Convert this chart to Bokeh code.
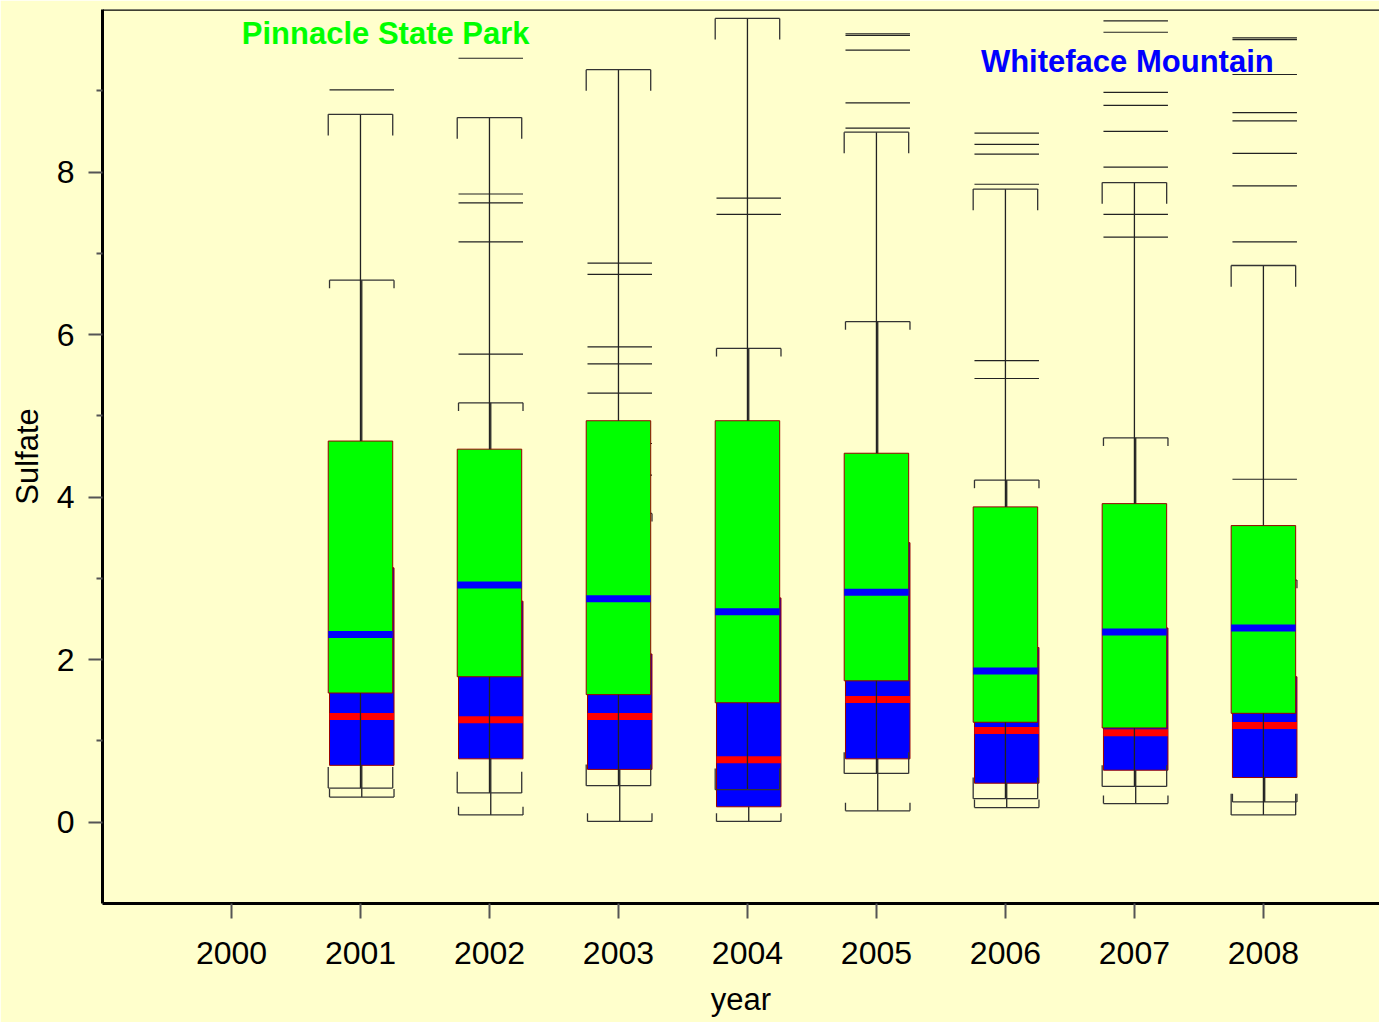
from bokeh.plotting import figure
from bokeh.models import ColumnDataSource, FixedTicker, Span
from bokeh.core.properties import value
from bokeh.embed import file_html
from bokeh.resources import INLINE

# data
years = [2001, 2002, 2003, 2004, 2005, 2006, 2007, 2008]

# Pinnacle State Park (green boxes)
p_q1 = [1.59, 1.79, 1.57, 1.47, 1.74, 1.23, 1.16, 1.34]
p_med = [2.31, 2.92, 2.75, 2.59, 2.83, 1.86, 2.34, 2.39]
p_q3 = [4.69, 4.59, 4.94, 4.94, 4.54, 3.88, 3.92, 3.65]
p_lo = [0.42, 0.36, 0.45, 0.40, 0.60, 0.29, 0.44, 0.09]
p_hi = [8.71, 8.67, 9.26, 9.89, 8.49, 7.79, 7.87, 6.85]

# Whiteface Mountain (blue boxes)
w_q1 = [0.70, 0.78, 0.65, 0.19, 0.78, 0.48, 0.64, 0.55]
w_med = [1.30, 1.26, 1.30, 0.77, 1.51, 1.13, 1.10, 1.19]
w_q3 = [3.13, 2.72, 2.07, 2.76, 3.44, 2.15, 2.39, 1.79]
w_lo = [0.31, 0.09, 0.01, 0.01, 0.14, 0.18, 0.23, 0.25]
w_hi = [6.67, 5.16, 3.80, 5.83, 6.16, 4.21, 4.73, 2.98]

w_outliers = {
    2001: [9.01],
    2002: [9.40, 7.73, 7.62, 7.14, 5.76],
    2003: [6.88, 6.74, 5.85, 5.64, 5.28, 4.66, 4.27],
    2004: [7.68, 7.48],
    2005: [9.70, 9.68, 9.50, 8.85, 8.54],
    2006: [8.48, 8.34, 8.22, 7.85, 5.68, 5.46],
    2007: [9.86, 9.72, 8.98, 8.82, 8.50, 8.06, 7.48, 7.20],
    2008: [9.65, 9.63, 9.20, 8.73, 8.63, 8.23, 7.83, 7.14, 4.22],
}

x_ticks = [2000, 2001, 2002, 2003, 2004, 2005, 2006, 2007, 2008]
y_ticks = [0, 2, 4, 6, 8]
y_minor = [1, 3, 5, 7, 9]

BG = "#FFFFCC"
FONT = "Liberation Sans"
y_top = 10.0

p = figure(width=1379, height=1022, x_range=(1999.0, 2008.9), y_range=(-1.0, y_top),
           output_backend="svg", toolbar_location=None, tools="",
           min_border_left=102, min_border_right=0, min_border_top=9, min_border_bottom=119)
p.background_fill_color = BG
p.border_fill_color = BG
p.outline_line_color = None
p.grid.visible = False


def add_site(q1, med, q3, lo, hi, shift, box_color, med_color, tick_len, outliers=None):
    half = 0.25
    xs = [y + shift for y in years]
    left = [x - half for x in xs]
    right = [x + half for x in xs]
    src = ColumnDataSource(data=dict(x=xs, left=left, right=right, q1=q1, med=med, q3=q3, lo=lo, hi=hi))

    p.quad(left="left", right="right", bottom="q1", top="q3", source=src,
           fill_color=box_color, line_color="#990000", line_width=1)

    # whiskers
    p.segment(x0="x", y0="q3", x1="x", y1="hi", source=src, line_color="#222222", line_width=1.3)
    p.segment(x0="x", y0="q1", x1="x", y1="lo", source=src, line_color="#222222", line_width=1.3)

    # staples with small end ticks pointing toward the box
    for end, sign in (("hi", -1), ("lo", 1)):
        vals = hi if end == "hi" else lo
        p.segment(x0=left, y0=vals, x1=right, y1=vals, line_color="#333333", line_width=1.3)
        tip = [v + sign * tick_len for v in vals]
        p.segment(x0=left + right, y0=vals + vals, x1=left + right, y1=tip + tip,
                  line_color="#333333", line_width=1.3)

    if outliers:
        ox0, ox1, oy = [], [], []
        for x, yr in zip(xs, years):
            for v in outliers.get(yr, []):
                ox0.append(x - half)
                ox1.append(x + half)
                oy.append(v)
        p.segment(x0=ox0, y0=oy, x1=ox1, y1=oy, line_color="#222222", line_width=1.2)

    p.segment(x0=left, y0=med, x1=right, y1=med, line_color=med_color, line_width=7)


add_site(w_q1, w_med, w_q3, w_lo, w_hi, 0.01, "#0000FF", "#FF0000", 0.1, w_outliers)
add_site(p_q1, p_med, p_q3, p_lo, p_hi, 0.0, "#00FF00", "#0000FF", 0.26)

p.text(x=[2000.08], y=[9.71], text=["Pinnacle State Park"], text_font=value(FONT),
       text_font_style="bold", text_font_size="31px", text_color="#00FF00", text_baseline="middle")
p.text(x=[2005.81], y=[9.36], text=["Whiteface Mountain"], text_font=value(FONT),
       text_font_style="bold", text_font_size="31px", text_color="#0000FF", text_baseline="middle")

# top frame line
p.add_layout(Span(location=y_top, dimension="width", line_color="black", line_width=2.5))

p.xaxis.ticker = FixedTicker(ticks=x_ticks)
p.yaxis.ticker = FixedTicker(ticks=y_ticks, minor_ticks=y_minor)

for ax in (p.xaxis, p.yaxis):
    ax.axis_line_width = 3
    ax.axis_line_color = "black"
    ax.major_tick_line_color = "#555555"
    ax.major_tick_line_width = 2
    ax.major_tick_in = 0
    ax.major_label_text_font = FONT
    ax.major_label_text_font_size = "32px"
    ax.major_label_text_color = "black"
    ax.axis_label_text_font = FONT
    ax.axis_label_text_font_size = "31px"
    ax.axis_label_text_font_style = "normal"
    ax.axis_label_text_color = "black"

p.xaxis.major_tick_out = 15
p.xaxis.minor_tick_line_color = None
p.xaxis.major_label_standoff = 23
p.xaxis.axis_label = "year"
p.xaxis.axis_label_standoff = 15

p.yaxis.major_tick_out = 14
p.yaxis.minor_tick_out = 6
p.yaxis.minor_tick_in = 0
p.yaxis.minor_tick_line_color = "#555555"
p.yaxis.minor_tick_line_width = 2
p.yaxis.major_label_standoff = 14
p.yaxis.axis_label = "Sulfate"
p.yaxis.axis_label_standoff = 9

open("out.html", "w").write(file_html(p, INLINE))
